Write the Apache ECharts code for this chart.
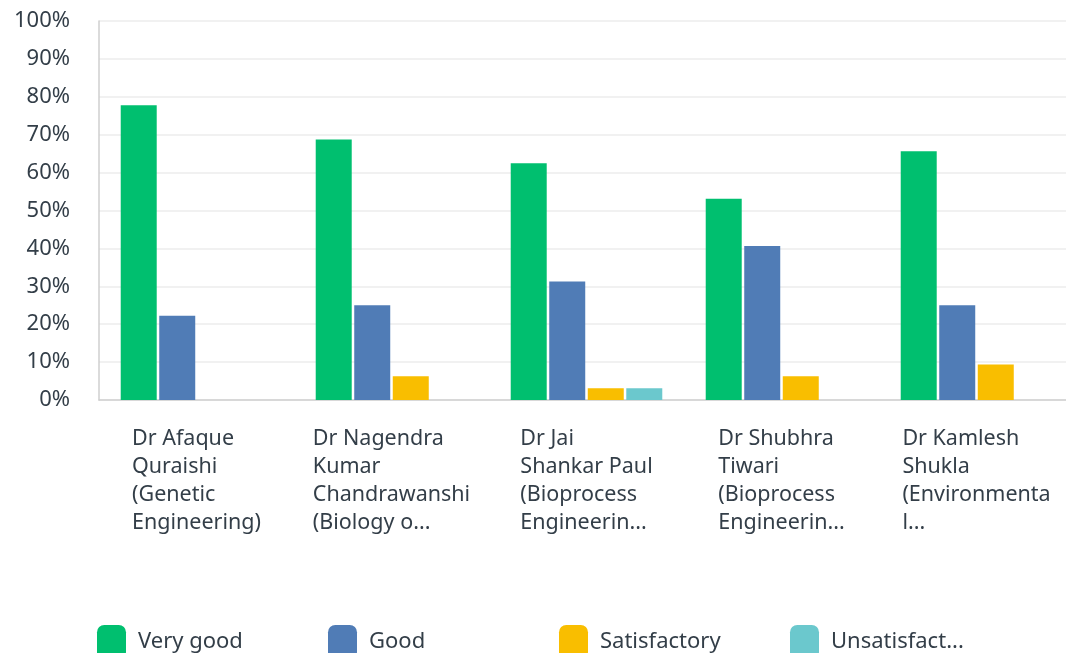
<!DOCTYPE html>
<html>
<head>
<meta charset="utf-8">
<script src="https://cdn.jsdelivr.net/npm/echarts@6/dist/echarts.min.js"></script>
<style>
  html, body { margin: 0; padding: 0; background: #fff; }
  #main { width: 1066px; height: 653px; }
</style>
</head>
<body>
<div id="main"></div>
<script>
// labels, one string per category (lines split with \n as in the picture)
var categories = [
  'Dr Afaque\nQuraishi\n(Genetic\nEngineering)',
  'Dr Nagendra\nKumar\nChandrawanshi\n(Biology o...',
  'Dr Jai\nShankar Paul\n(Bioprocess\nEngineerin...',
  'Dr Shubhra\nTiwari\n(Bioprocess\nEngineerin...',
  'Dr Kamlesh\nShukla\n(Environmenta\nl...'
];
var seriesNames = ['Very good', 'Good', 'Satisfactory', 'Unsatisfact...'];
var veryGood = [77.78, 68.75, 62.5, 53.13, 65.63];
var good = [22.22, 25, 31.25, 40.63, 25];
var satisfactory = [0, 6.25, 3.13, 6.25, 9.38];
var unsatisfactory = [0, 0, 3.13, 0, 0];
var yTicks = [0, 10, 20, 30, 40, 50, 60, 70, 80, 90, 100];

var colors = ['#00bf6f', '#507cb6', '#f9be00', '#6bc8cd'];
var textColor = '#333e48';
var font = 'Noto Sans';

var myChart = echarts.init(document.getElementById('main'));

function bar(name, data, color) {
  return {
    name: name,
    type: 'bar',
    data: data,
    barWidth: 36,
    barGap: '7%',
    itemStyle: { color: color }
  };
}

// one legend per item so they sit on a fixed step like the survey export
var legends = seriesNames.map(function (name, i) {
  return {
    data: [name],
    left: 97 + i * 231,
    top: 625,
    padding: 0,
    icon: 'roundRect',
    itemWidth: 29,
    itemHeight: 34,
    selectedMode: false,
    textStyle: {
      fontFamily: font,
      fontSize: 22,
      color: textColor,
      padding: [0, 0, 0, 7]
    }
  };
});

var option = {
  animation: false,
  color: colors,
  legend: legends,
  grid: {
    left: 99,
    top: 21,
    width: 975,
    bottom: 253,
    outerBoundsMode: 'none',
    containLabel: false
  },
  xAxis: {
    type: 'category',
    data: categories,
    axisTick: { show: false },
    axisLine: { lineStyle: { color: '#cfcfcf', width: 1.5 } },
    axisLabel: {
      interval: 0,
      margin: 25,
      lineHeight: 28,
      formatter: function (v) {
        return v.split('\n').map(function (s) { return '{l|' + s + '}'; }).join('\n');
      },
      rich: {
        l: {
          align: 'left',
          fontFamily: font,
          fontSize: 21.5,
          lineHeight: 28,
          color: textColor
        }
      }
    }
  },
  yAxis: {
    type: 'value',
    min: yTicks[0],
    max: yTicks[yTicks.length - 1],
    interval: 10,
    axisLine: { show: true, lineStyle: { color: '#cfcfcf', width: 1.5 } },
    splitLine: { lineStyle: { color: '#ececec', width: 1.5 } },
    axisLabel: {
      margin: 29,
      fontFamily: font,
      fontSize: 22,
      color: textColor,
      formatter: '{value}%'
    }
  },
  series: [
    bar(seriesNames[0], veryGood, colors[0]),
    bar(seriesNames[1], good, colors[1]),
    bar(seriesNames[2], satisfactory, colors[2]),
    bar(seriesNames[3], unsatisfactory, colors[3])
  ]
};

myChart.setOption(option);
</script>
</body>
</html>
